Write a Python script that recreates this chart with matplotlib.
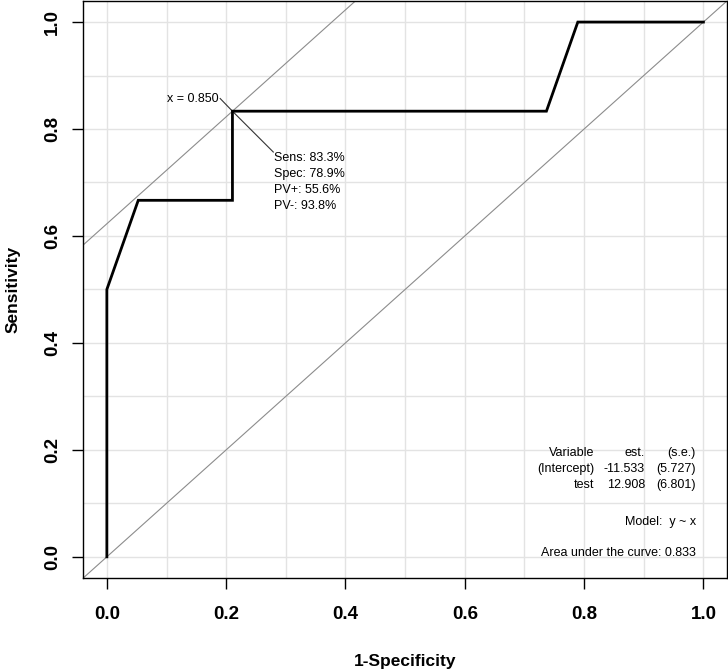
import numpy as np
import matplotlib
matplotlib.use("Agg")
import matplotlib.pyplot as plt

plt.rcParams['font.family'] = ['Liberation Sans', 'DejaVu Sans']

## ROC curve points (1-specificity, sensitivity)
fpr = [0.0, 0.0, 1/19, 4/19, 4/19, 14/19, 15/19, 1.0]
tpr = [0.0, 0.5, 4/6, 4/6, 5/6, 5/6, 1.0, 1.0]

## optimal cut point
opt_x = 4/19
opt_y = 5/6
cut_label = "x = 0.850"
opt_stats = ["Sens: 83.3%", "Spec: 78.9%", "PV+: 55.6%", "PV-: 93.8%"]

## model table
tab_var = ["Variable", "(Intercept)", "test"]
tab_est = ["est.", "-11.533", "12.908"]
tab_se = ["(s.e.)", "(5.727)", "(6.801)"]
model_txt = "Model:  y ~ x"
auc_txt = "Area under the curve: 0.833"

ticks = [0.0, 0.2, 0.4, 0.6, 0.8, 1.0]

fig = plt.figure(figsize=(7.28, 6.70), dpi=100)
ax = fig.add_axes([0.114, 0.137, 0.885, 0.862])

ax.set_xlim(-0.04, 1.04)
ax.set_ylim(-0.04, 1.04)

# grid
for g in np.arange(0, 1.01, 0.1):
    ax.axvline(g, color='#e3e3e3', lw=1, zorder=0)
    ax.axhline(g, color='#e3e3e3', lw=1, zorder=0)

# diagonal and tangent through the optimal point
xx = np.array([-0.1, 1.1])
ax.plot(xx, xx, color='#8c8c8c', lw=0.8, zorder=1)
ax.plot(xx, xx + (opt_y - opt_x), color='#8c8c8c', lw=0.8, zorder=1)

# ROC curve
ax.plot(fpr, tpr, color='black', lw=2, zorder=3, solid_joinstyle='miter')

# pointer lines
ax.plot([opt_x, 0.19], [opt_y, 0.857], color='#333333', lw=0.8, zorder=2)
ax.plot([opt_x, 0.279], [opt_y, 0.757], color='#333333', lw=0.8, zorder=2)
ax.text(0.187, 0.857, cut_label, ha='right', va='center', fontsize=9)
for i, s in enumerate(opt_stats):
    ax.text(0.281, 0.746 - i * 0.03, s, ha='left', va='center', fontsize=9)

# model table
for i in range(3):
    y = 0.194 - i * 0.03
    ax.text(0.817, y, tab_var[i], ha='right', va='center', fontsize=9)
    ax.text(0.902, y, tab_est[i], ha='right', va='center', fontsize=9)
    ax.text(0.987, y, tab_se[i], ha='right', va='center', fontsize=9)
ax.text(0.987, 0.065, model_txt, ha='right', va='center', fontsize=9)
ax.text(0.987, 0.007, auc_txt, ha='right', va='center', fontsize=9)

ax.set_xticks(ticks)
ax.set_yticks(ticks)
ax.set_xticklabels(["%.1f" % t for t in ticks], fontsize=13.5, fontweight='bold')
ax.set_yticklabels(["%.1f" % t for t in ticks], fontsize=13.5, fontweight='bold',
                   rotation=90, va='center')
ax.tick_params(axis='both', direction='out', length=8, width=1)
ax.tick_params(axis='x', pad=12)
ax.tick_params(axis='y', pad=8)
for sp in ax.spines.values():
    sp.set_linewidth(1)

ax.set_xlabel("1-Specificity", fontsize=12.5, fontweight='bold', labelpad=22)
ax.set_ylabel("Sensitivity", fontsize=12.5, fontweight='bold', labelpad=17)

fig.savefig("out.png", dpi=100)
